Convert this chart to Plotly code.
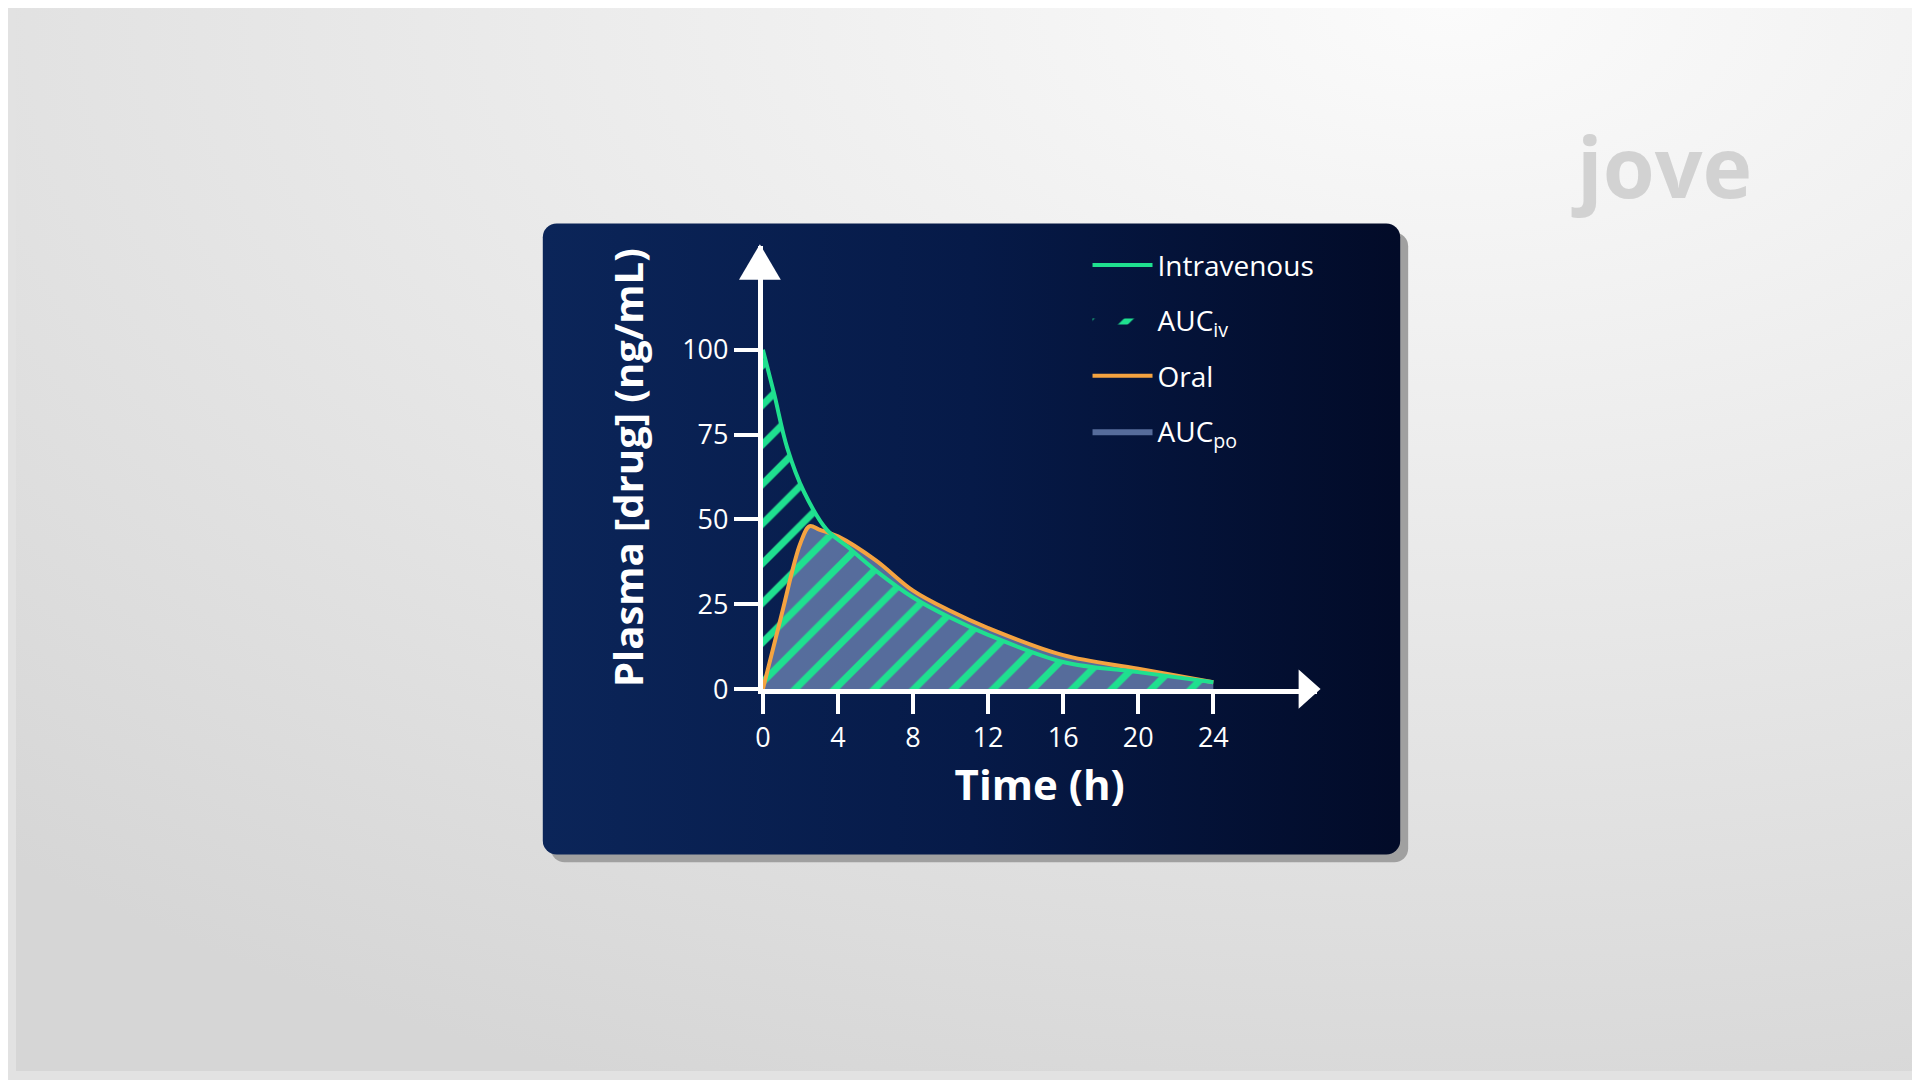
import base64
import plotly.graph_objects as go

time_iv = [0, 0.6, 1.3, 2.2, 3.4, 4.5, 6, 8, 10, 12, 16, 20, 24]
conc_iv = [100, 87, 71, 58, 47, 42, 35, 27, 21, 16, 8, 5, 2]
time_po = [0, 1, 2, 2.5, 3, 4, 6, 8, 10, 12, 16, 20, 24]
conc_po = [0, 22, 43, 48, 47, 45, 38, 29, 23, 18, 10, 6, 2]
x_ticks = [0, 4, 8, 12, 16, 20, 24]
y_ticks = [0, 25, 50, 75, 100]

W, H = 1920, 1080
GREEN = "#1fe08f"
ORANGE = "#f5a340"
font = "Open Sans, sans-serif"

svg = f'''<svg xmlns="http://www.w3.org/2000/svg" width="{W}" height="{H}" viewBox="0 0 {W} {H}">
<defs>
<radialGradient id="bg" cx="0.75" cy="0" r="1.1"><stop offset="0" stop-color="#fbfbfb"/><stop offset="1" stop-color="#d6d6d6"/></radialGradient>
<linearGradient id="card" x1="0" x2="1" y1="0" y2="0"><stop offset="0" stop-color="#0b2559"/><stop offset="0.5" stop-color="#061a48"/><stop offset="1" stop-color="#020b28"/></linearGradient>
</defs>
<rect width="{W}" height="{H}" fill="url(#bg)"/>
<rect x="537" y="228" width="861" height="640" rx="14" fill="#a0a0a0"/>
<rect x="529" y="219" width="861" height="641" rx="14" fill="url(#card)"/>
</svg>'''
src = "data:image/svg+xml;base64," + base64.b64encode(svg.encode()).decode()

fig = go.Figure()
fig.add_trace(go.Scatter(x=time_po, y=conc_po, fill="tozeroy", fillcolor="rgba(95,118,165,0.9)",
                         line=dict(width=0, shape="spline"), mode="lines", name="AUC<sub>po</sub>",
                         legendrank=4, legendgroup="d"))
fig.add_trace(go.Scatter(x=time_iv, y=conc_iv, fill="tozeroy", fillcolor="rgba(0,0,0,0)",
                         fillpattern=dict(shape="/", fgcolor=GREEN, fgopacity=1, bgcolor="rgba(0,0,0,0)", size=28, solidity=0.25),
                         line=dict(width=0, shape="spline"), mode="lines", name="AUC<sub>iv</sub>",
                         legendrank=2, legendgroup="b"))
fig.add_trace(go.Scatter(x=time_po, y=conc_po, line=dict(color=ORANGE, width=4, shape="spline"),
                         mode="lines", name="Oral", legendrank=3, legendgroup="c"))
fig.add_trace(go.Scatter(x=time_iv, y=conc_iv, line=dict(color=GREEN, width=4, shape="spline"),
                         mode="lines", name="Intravenous", legendrank=1, legendgroup="a"))

fig.update_layout(
    width=W, height=H, margin=dict(l=0, r=0, t=0, b=0),
    paper_bgcolor="#e2e2e2", plot_bgcolor="rgba(0,0,0,0)",
    font=dict(family=font, color="white"),
    images=[dict(source=src, xref="paper", yref="paper", x=0, y=1, sizex=1, sizey=1,
                 xanchor="left", yanchor="top", sizing="stretch", layer="below")],
    xaxis=dict(domain=[750/W, 1306/W], range=[0, 29.5], showgrid=False, zeroline=False,
               showline=True, linecolor="white", linewidth=5,
               tickvals=x_ticks, ticks="outside", ticklen=20, tickwidth=4, tickcolor="white",
               tickfont=dict(size=27, color="white"),
               title=dict(text="<b>Time (h)</b>", font=dict(size=42, color="white"), standoff=18)),
    yaxis=dict(domain=[(H-692)/H, (H-242)/H], range=[0, 130.5], showgrid=False, zeroline=False,
               showline=True, linecolor="white", linewidth=5,
               tickvals=y_ticks, ticks="outside", ticklen=24, tickwidth=4, tickcolor="white",
               tickfont=dict(size=27, color="white"),
               title=dict(text="<b>Plasma [drug] (ng/mL)</b>", font=dict(size=40, color="white"), standoff=28)),
    legend=dict(x=1076/W, y=1-236/H, xanchor="left", yanchor="top", bgcolor="rgba(0,0,0,0)",
                font=dict(size=28, color="white"), itemwidth=60, tracegroupgap=16),
    showlegend=True,
)

fig.add_shape(type="path", xref="paper", yref="paper",
              path=f"M {1288/W} {1-672/H} L {1310/W} {1-692/H} L {1288/W} {1-712/H} Z",
              fillcolor="white", line=dict(width=0))
fig.add_shape(type="path", xref="paper", yref="paper",
              path=f"M {726/W} {1-276/H} L {747/W} {1-240/H} L {768/W} {1-276/H} Z",
              fillcolor="white", line=dict(width=0))
fig.add_annotation(x=1745/W, y=1-100/H, xref="paper", yref="paper", text="<b>jove</b>",
                   showarrow=False, font=dict(size=84, color="#d2d2d2", family=font))
fig.write_html("out.html")
